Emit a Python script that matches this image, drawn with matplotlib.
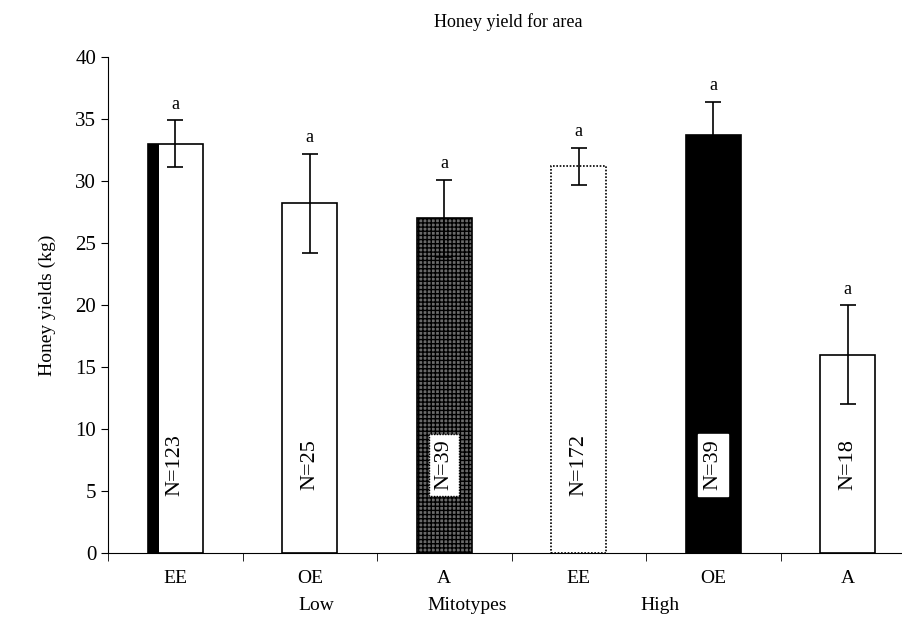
import matplotlib.pyplot as plt
import numpy as np

# data
categories = ['EE', 'OE', 'A', 'EE', 'OE', 'A']
means = [33.0, 28.2, 27.0, 31.2, 33.7, 16.0]
errors = [1.9, 4.0, 3.1, 1.5, 2.7, 4.0]
n_labels = ['N=123', 'N=25', 'N=39', 'N=172', 'N=39', 'N=18']
letters = ['a', 'a', 'a', 'a', 'a', 'a']
groups = ['Low', 'Mitotypes', 'High']

plt.rcParams['font.family'] = ['Liberation Serif', 'DejaVu Serif']

fig = plt.figure(figsize=(9.03, 6.31), dpi=100)
ax = fig.add_axes([108/903, 78/631, 807/903, 496/631])

x = np.arange(len(categories))
w = 0.41
faces = ['white', 'white', '#6a6a6a', 'white', 'black', 'white']
hatches = [None, None, '++++', None, None, None]
styles = ['-', '-', '-', (0, (1, 1)), '-', '-']

for i in range(len(x)):
    ax.bar(x[i], means[i], width=w, color=faces[i], edgecolor='black',
           linewidth=1.2, hatch=hatches[i], linestyle=styles[i], zorder=2)
# thick dark strip on the left of the first bar
ax.bar(x[0] - w/2, means[0], width=w*0.21, align='edge', color='black', zorder=3)

ax.errorbar(x, means, yerr=errors, fmt='none', ecolor='black', elinewidth=1.2,
            capsize=6, capthick=1.2, zorder=4)

for i in range(len(x)):
    ax.text(x[i], means[i] + errors[i] + 0.6, letters[i], ha='center', va='bottom',
            fontsize=13)
    box = None
    if i == 2:
        box = dict(facecolor='white', edgecolor='black', linestyle=(0, (1, 1)), pad=4)
    elif i == 4:
        box = dict(facecolor='white', edgecolor='white', pad=4)
    ax.text(x[i], 7.1, n_labels[i], rotation=90, ha='center', va='center',
            fontsize=16, zorder=5, bbox=box)

ax.set_xlim(-0.5, 5.5)
ax.set_ylim(0, 40)
ax.set_yticks(range(0, 41, 5))
ax.set_xticks(x)
ax.set_xticklabels(categories)
ax.set_xticks(np.arange(-0.5, 5.6, 1), minor=True)
ax.tick_params(axis='x', which='major', length=0, labelsize=14, pad=12)
ax.tick_params(axis='x', which='minor', length=6, direction='out')
ax.tick_params(axis='y', labelsize=15, length=5, direction='out')
for s in ['top', 'right']:
    ax.spines[s].set_visible(False)

ax.set_ylabel('Honey yields (kg)', fontsize=14, labelpad=14)
fig.text(508/903, 1 - 22/631, 'Honey yield for area', ha='center', va='center', fontsize=13)
for gx, g in zip([316, 467, 660], groups):
    fig.text(gx/903, 1 - 606/631, g, ha='center', va='center', fontsize=14)

fig.savefig('out.png', dpi=100)
